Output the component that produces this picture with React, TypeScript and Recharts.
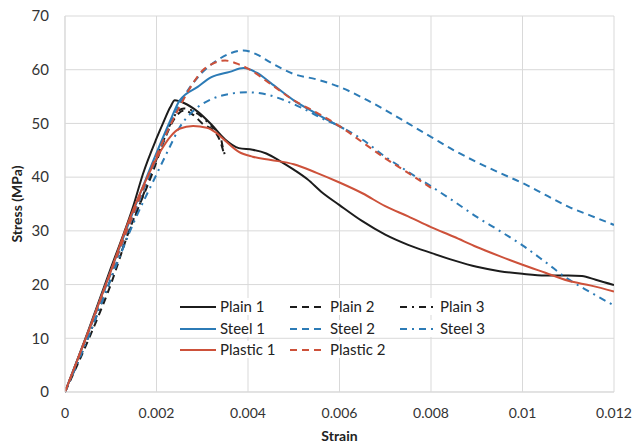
import React from 'react';
import { LineChart, Line, XAxis, YAxis, CartesianGrid, Label } from 'recharts';

// strain / stress pairs for each specimen
const plain1 = [
  [0, 0], [0.0005, 11.2], [0.001, 23], [0.0015, 34.8], [0.0017, 40.5], [0.002, 47.2], [0.00215, 50.2],
  [0.0023, 53], [0.0024, 54.3], [0.0026, 53.8], [0.0029, 52.2], [0.0032, 49.8], [0.0035, 47],
  [0.0038, 45.4], [0.0041, 45.1], [0.0044, 44.4], [0.0047, 43], [0.005, 41.4], [0.0053, 39.6],
  [0.0056, 37.3], [0.006, 34.8], [0.0065, 31.8], [0.007, 29.3], [0.0075, 27.4], [0.008, 25.9],
  [0.0085, 24.5], [0.009, 23.3], [0.0095, 22.5], [0.01, 22.0], [0.0105, 21.7], [0.011, 21.7],
  [0.0113, 21.6], [0.0116, 20.9], [0.012, 19.9],
];
const plain2 = [
  [0, 0], [0.0005, 9.5], [0.001, 20], [0.0014, 30], [0.0019, 40.5], [0.0022, 47.5], [0.0024, 51],
  [0.0026, 52.4], [0.0028, 51.6], [0.003, 50.0], [0.0033, 48.2], [0.0034, 46.5], [0.00348, 44.2],
];
const plain3 = [
  [0, 0], [0.0005, 10], [0.001, 21], [0.0015, 32], [0.0019, 41], [0.0022, 47.8], [0.0024, 51.5],
  [0.0026, 52.8], [0.0029, 51.8], [0.0032, 49.5], [0.0034, 47.5], [0.00345, 45.5], [0.0035, 44],
];
const steel1 = [
  [0, 0], [0.0005, 11], [0.001, 22.5], [0.0015, 33.8], [0.002, 44.5], [0.0023, 50.5], [0.0025, 54.2],
  [0.0029, 56.8], [0.0032, 58.6], [0.0036, 59.6], [0.0039, 60.3], [0.0042, 59.4], [0.0045, 57.5],
  [0.005, 54.3], [0.0055, 51.8], [0.0061, 49],
];
const steel2 = [
  [0, 0], [0.0005, 10.8], [0.001, 22], [0.0015, 33], [0.002, 43.5], [0.0025, 53.5], [0.003, 59.5],
  [0.0033, 61.6], [0.0036, 63], [0.0039, 63.6], [0.0042, 62.8], [0.0045, 61.3], [0.005, 59.2],
  [0.0055, 58.2], [0.006, 56.8], [0.0065, 54.8], [0.007, 52.5], [0.0075, 50], [0.008, 47.5],
  [0.0085, 45], [0.009, 42.8], [0.0095, 40.8], [0.01, 38.9], [0.0105, 36.7], [0.011, 34.5],
  [0.0115, 32.8], [0.012, 31.1],
];
const steel3 = [
  [0, 0], [0.0005, 10], [0.001, 21], [0.0015, 31.5], [0.002, 40.5], [0.0023, 45.8], [0.0025, 49.2],
  [0.0028, 52.3], [0.0032, 54.5], [0.0036, 55.5], [0.004, 55.8], [0.0044, 55.4], [0.0048, 54.3],
  [0.0052, 52.8], [0.0056, 51], [0.006, 49.5], [0.0065, 47], [0.007, 43.8], [0.0075, 41],
  [0.008, 38.3], [0.0085, 35.5], [0.009, 32.6], [0.0095, 30], [0.01, 27.3], [0.0105, 24.2],
  [0.011, 21], [0.0115, 18.5], [0.012, 16.1],
];
const plastic1 = [
  [0, 0], [0.0005, 11], [0.001, 22.5], [0.0014, 32], [0.0018, 40], [0.0021, 45], [0.0023, 47.5],
  [0.0025, 49], [0.0028, 49.5], [0.0031, 49.2], [0.0033, 48.3], [0.0035, 46.8], [0.0038, 44.7],
  [0.0041, 43.8], [0.0045, 43.2], [0.005, 42.4], [0.0055, 40.8], [0.006, 39], [0.0065, 37],
  [0.007, 34.6], [0.0075, 32.7], [0.008, 30.7], [0.0085, 28.9], [0.009, 27], [0.0095, 25.3],
  [0.01, 23.7], [0.0105, 22.2], [0.011, 20.7], [0.0115, 19.8], [0.012, 18.7],
];
const plastic2 = [
  [0, 0], [0.0005, 11], [0.001, 22.3], [0.0015, 33.3], [0.002, 44], [0.0025, 53], [0.0028, 57.5],
  [0.003, 59.8], [0.0032, 61], [0.0035, 61.7], [0.0038, 61], [0.004, 60.2], [0.0045, 57.3],
  [0.005, 54.3], [0.0055, 52], [0.006, 49.5], [0.0065, 46.5], [0.007, 43.5], [0.0075, 40.8],
  [0.008, 38],
];

const strainTicks = [0, 0.002, 0.004, 0.006, 0.008, 0.01, 0.012];
const stressTicks = [0, 10, 20, 30, 40, 50, 60, 70];

const BLACK = '#1c1c1c';
const BLUE = '#2c7bb6';
const RED = '#cd513a';
const SOLID = undefined;
const DASH = '7 5';
const DASH_DOT = '7 5 2 5';

const series = [
  { name: 'Plain 1', data: plain1, color: BLACK, dash: SOLID },
  { name: 'Plain 2', data: plain2, color: BLACK, dash: DASH },
  { name: 'Plain 3', data: plain3, color: BLACK, dash: DASH_DOT },
  { name: 'Steel 1', data: steel1, color: BLUE, dash: SOLID },
  { name: 'Steel 2', data: steel2, color: BLUE, dash: DASH },
  { name: 'Steel 3', data: steel3, color: BLUE, dash: DASH_DOT },
  { name: 'Plastic 1', data: plastic1, color: RED, dash: SOLID },
  { name: 'Plastic 2', data: plastic2, color: RED, dash: DASH },
];

const FONT = 'Lato, "Open Sans", sans-serif';
const GRID = '#d9d9d9';

const fmtStrain = (v: number) => String(+v.toFixed(3));

function LegendRow({ items, top }: { items: typeof series; top: number }) {
  return (
    <div
      style={{
        position: 'absolute',
        left: 176,
        top,
        height: 17,
        display: 'flex',
        background: '#fff',
        fontFamily: FONT,
        fontSize: 15,
        color: '#222',
        lineHeight: '17px',
      }}
    >
      {items.map((s) => (
        <div key={s.name} style={{ display: 'flex', alignItems: 'center', width: 110 }}>
          <svg width={42} height={10} style={{ marginRight: 2 }}>
            <line x1={4} y1={5} x2={40} y2={5} stroke={s.color} strokeWidth={2} strokeDasharray={s.dash} />
          </svg>
          <span>{s.name}</span>
        </div>
      ))}
    </div>
  );
}

// rotated y-axis title, centred on the plot's height
const StressTitle = ({ viewBox }: any) => {
  const cx = 16;
  const cy = viewBox.y + viewBox.height / 2;
  return (
    <text
      x={cx}
      y={cy}
      transform={`rotate(-90 ${cx} ${cy})`}
      textAnchor="middle"
      dominantBaseline="central"
      style={{ fill: '#222', fontSize: 14, fontWeight: 700, fontFamily: FONT }}
    >
      Stress (MPa)
    </text>
  );
};

export default function App() {
  return (
    <div style={{ position: 'absolute', left: 0, top: 0, width: 633, height: 444, background: '#fff' }}>
      <LineChart width={633} height={444} margin={{ top: 16, right: 19, left: 0, bottom: 0 }}>
        <CartesianGrid stroke={GRID} strokeWidth={1} />
        <XAxis
          type="number"
          dataKey="x"
          domain={[0, 0.012]}
          ticks={strainTicks}
          tickFormatter={fmtStrain}
          allowDataOverflow
          height={52}
          tickLine={false}
          tickSize={0}
          tickMargin={16}
          axisLine={{ stroke: GRID }}
          tick={{ fill: '#333', fontSize: 14, fontFamily: FONT }}
        >
          <Label
            value="Strain"
            position="insideBottom"
            offset={3}
            style={{ fill: '#222', fontSize: 14, fontWeight: 700, fontFamily: FONT }}
          />
        </XAxis>
        <YAxis
          type="number"
          domain={[0, 70]}
          ticks={stressTicks}
          width={65}
          tickLine={false}
          tickSize={0}
          tickMargin={16}
          axisLine={{ stroke: GRID }}
          tick={{ fill: '#333', fontSize: 15, fontFamily: FONT }}
        >
          <Label content={StressTitle} />
        </YAxis>
        {series.map((s) => (
          <Line
            key={s.name}
            name={s.name}
            data={s.data.map(([x, y]) => ({ x, y }))}
            dataKey="y"
            type="monotone"
            stroke={s.color}
            strokeWidth={2}
            strokeDasharray={s.dash}
            dot={false}
            activeDot={false}
            isAnimationActive={false}
          />
        ))}
      </LineChart>
      <LegendRow items={series.slice(0, 3)} top={298} />
      <LegendRow items={series.slice(3, 6)} top={320} />
      <LegendRow items={series.slice(6, 8)} top={341} />
    </div>
  );
}
